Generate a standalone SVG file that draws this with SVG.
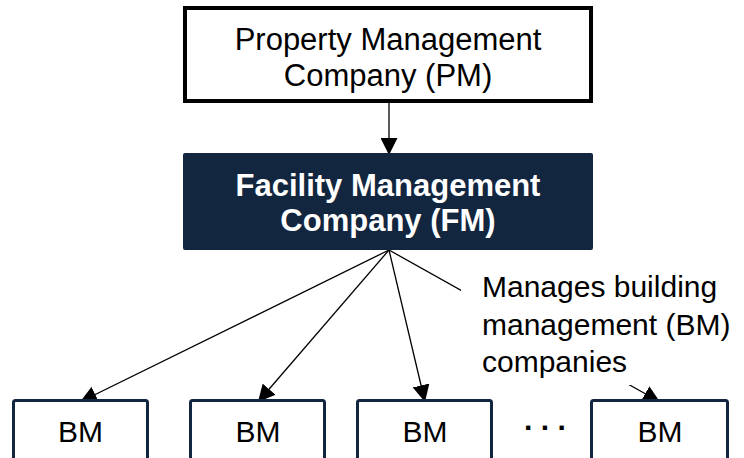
<svg xmlns="http://www.w3.org/2000/svg" width="744" height="458" viewBox="0 0 744 458">
<defs>
<style>
.t{font-family:"Liberation Sans",Arial,sans-serif;font-size:30px;fill:#000}
.c{text-anchor:middle}
.w{fill:#fff;font-weight:bold;font-size:31px}
.bm{fill:#fff;stroke:#13263f;stroke-width:3}
.ln{stroke:#000;stroke-width:1.3;fill:none}
</style>
<marker id="ah" markerUnits="userSpaceOnUse" markerWidth="17" markerHeight="17" refX="17" refY="8.5" orient="auto" viewBox="0 0 17 17">
<path d="M0,0 L17,8.5 L0,17 z" fill="#000"/>
</marker>
</defs>
<rect width="744" height="458" fill="#fff"/>
<g id="connectors">
<line class="ln" x1="389" y1="103" x2="389" y2="155" marker-end="url(#ah)"/>
<line class="ln" x1="389" y1="250" x2="80" y2="402" marker-end="url(#ah)"/>
<line class="ln" x1="389" y1="250" x2="258" y2="402" marker-end="url(#ah)"/>
<line class="ln" x1="389" y1="250" x2="425" y2="402" marker-end="url(#ah)"/>
<line class="ln" x1="389" y1="250" x2="660" y2="402" marker-end="url(#ah)"/>
</g>
<g id="pm">
<rect x="185" y="8" width="406" height="93" fill="#fff" stroke="#000" stroke-width="4"/>
<text class="t c" x="388" y="49.5" style="font-size:31px">Property Management</text>
<text class="t c" x="388" y="85.5" style="font-size:31px">Company (PM)</text>
</g>
<g id="fm">
<rect x="183" y="153" width="410" height="97" rx="2" fill="#13263f"/>
<text class="t c w" x="388" y="196">Facility Management</text>
<text class="t c w" x="388" y="231">Company (FM)</text>
</g>
<g id="label">
<rect x="461" y="262" width="283" height="123" fill="#fff"/>
<text class="t" x="482" y="297">Manages building</text>
<text class="t" x="482" y="335">management (BM)</text>
<text class="t" x="482" y="372">companies</text>
</g>
<g id="bm1">
<rect class="bm" x="13.5" y="400.5" width="134" height="80" rx="2"/>
<text class="t c" x="80.5" y="442">BM</text>
</g>
<g id="bm2">
<rect class="bm" x="190.5" y="400.5" width="134" height="80" rx="2"/>
<text class="t c" x="258" y="442">BM</text>
</g>
<g id="bm3">
<rect class="bm" x="357.5" y="400.5" width="134" height="80" rx="2"/>
<text class="t c" x="425" y="442">BM</text>
</g>
<g id="dots">
<text class="t" x="524" y="430" style="font-weight:bold;letter-spacing:8.4px">...</text>
</g>
<g id="bm4">
<rect class="bm" x="591.5" y="400.5" width="136" height="80" rx="2"/>
<text class="t c" x="660" y="442">BM</text>
</g>
</svg>
